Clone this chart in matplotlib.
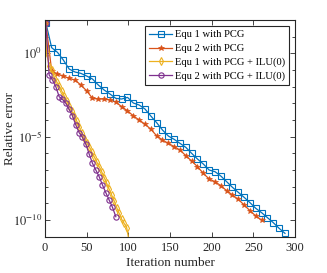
import numpy as np
import matplotlib
matplotlib.use("Agg")
import matplotlib.pyplot as plt
from matplotlib.ticker import NullFormatter, FixedLocator

plt.rcParams['font.family'] = ['Liberation Serif', 'DejaVu Serif']
plt.rcParams['mathtext.fontset'] = 'stix'

# ---- data (log10 of relative error) ----
x_eq1_pcg = [1 + 7 * k for k in range(42)]
log_eq1_pcg = [1.84, 0.34, 0.06, -0.4, -0.94, -1.12, -1.2, -1.36, -1.54, -1.9,
               -2.2, -2.44, -2.7, -2.74, -2.64, -2.98, -3.1, -3.34, -3.76, -4.16,
               -4.6, -4.96, -5.16, -5.4, -5.64, -6.0, -6.34, -6.64, -7.0, -7.1,
               -7.36, -7.7, -8.04, -8.34, -8.64, -8.96, -9.3, -9.56, -9.86, -10.16,
               -10.5, -10.8]

x_eq2_pcg = [1 + 7 * k for k in range(38)]
log_eq2_pcg = [1.84, -1.05, -1.24, -1.36, -1.5, -1.6, -1.9, -2.25, -2.7, -2.74,
               -2.74, -2.8, -2.92, -3.2, -3.45, -3.75, -4.0, -4.25, -4.55, -4.95,
               -5.2, -5.4, -5.6, -5.8, -6.14, -6.46, -6.8, -7.2, -7.54, -7.7,
               -7.94, -8.24, -8.5, -8.76, -9.1, -9.44, -9.76, -10.0]

x_eq1_ilu = [1] + [2 + 3 * k for k in range(33)] + [101]
log_eq1_ilu = [1.84, 0.0, -0.75, -1.0, -1.4, -1.7, -1.95, -2.25, -2.55, -2.85,
               -3.15, -3.45, -3.75, -4.05, -4.4, -4.75, -5.05, -5.35, -5.6, -5.9,
               -6.2, -6.5, -6.8, -7.1, -7.45, -7.8, -8.15, -8.5, -8.85, -9.25,
               -9.6, -9.95, -10.2, -10.45, -11.3]

x_eq2_ilu = [1 + 4 * k for k in range(22)]
log_eq2_ilu = [1.84, -1.3, -1.6, -2.0, -2.6, -2.76, -3.0, -3.36, -3.76, -4.3,
               -4.76, -5.04, -5.44, -6.04, -6.6, -7.0, -7.4, -7.9, -8.36, -8.8,
               -9.24, -9.8]

labels = ["Equ 1 with PCG", "Equ 2 with PCG",
          "Equ 1 with PCG + ILU(0)", "Equ 2 with PCG + ILU(0)"]
colors = ["#0072BD", "#D95319", "#EDB120", "#7E2F8E"]

fig = plt.figure(figsize=(3.27, 2.73), dpi=100)
ax = fig.add_axes([0.1376, 0.133, 0.7645, 0.7937])

series = [(x_eq1_pcg, log_eq1_pcg, 's'), (x_eq2_pcg, log_eq2_pcg, '*'),
          (x_eq1_ilu, log_eq1_ilu, 'd'), (x_eq2_ilu, log_eq2_ilu, 'o')]
for (xs, ls, m), c, lab in zip(series, colors, labels):
    ys = 10.0 ** np.array(ls)
    if m == '*':
        ax.plot(xs, ys, color=c, lw=0.9, marker=m, ms=4.0, mfc=c, mec=c,
                mew=0.5, label=lab)
    else:
        ax.plot(xs, ys, color=c, lw=0.9, marker=m, ms=3.8, mfc='none', mec=c,
                mew=0.8, label=lab)

ax.set_yscale('log')
ax.set_xlim(0, 300)
ax.set_ylim(1e-11, 1e2)
ax.set_xticks([0, 50, 100, 150, 200, 250, 300])
ax.yaxis.set_major_locator(FixedLocator([1e-10, 1e-5, 1e0]))
ax.yaxis.set_minor_locator(FixedLocator([10.0 ** k for k in range(-11, 3)]))
ax.yaxis.set_minor_formatter(NullFormatter())
ax.set_yticklabels([r'$10^{-10}$', r'$10^{-5}$', r'$10^{0}$'])

edge = '#262626'
for s in ax.spines.values():
    s.set_color(edge)
    s.set_linewidth(0.8)
ax.tick_params(which='both', direction='in', top=True, right=True,
               colors=edge, labelsize=9, width=0.6)
ax.tick_params(which='major', length=3.5)
ax.tick_params(which='minor', length=2)
ax.tick_params(axis='x', pad=4)
ax.tick_params(axis='y', pad=2)

ax.set_xlabel('Iteration number', fontsize=9.5, color=edge, labelpad=2)
ax.set_ylabel('Relative error', fontsize=9.5, color=edge)
ax.yaxis.set_label_coords(-0.115, 0.5)

leg = ax.legend(loc='upper right', fontsize=7.6, frameon=True, fancybox=False,
                edgecolor=edge, framealpha=1, borderpad=0.35, labelspacing=0.42,
                handlelength=2.2, handletextpad=0.25, borderaxespad=0.6)
leg.get_frame().set_linewidth(0.8)

fig.savefig('out.png', dpi=100, facecolor='white')
